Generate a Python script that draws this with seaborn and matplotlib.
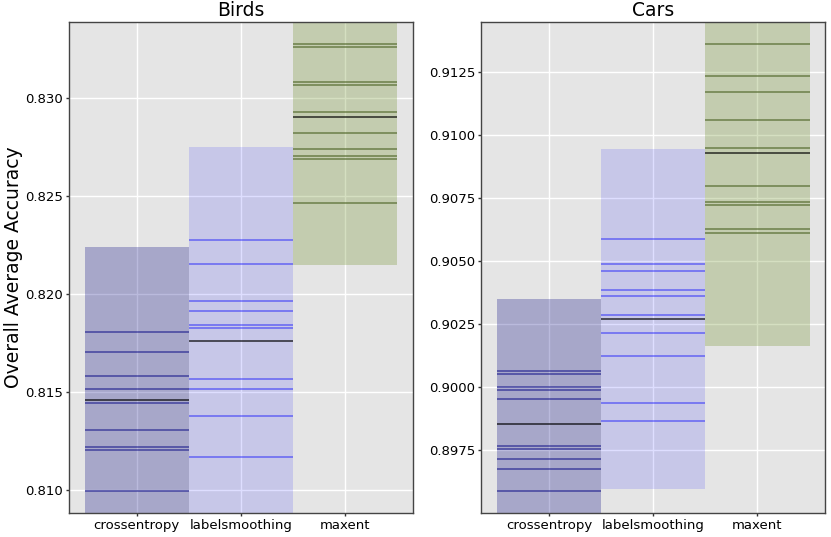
import matplotlib
matplotlib.use("Agg")
import matplotlib.pyplot as plt
import numpy as np
import seaborn as sns
from matplotlib.ticker import MultipleLocator, FormatStrFormatter

# Style: grey panel, white grid, dark frame with ticks
sns.set_theme(style="darkgrid", rc={
    "axes.facecolor": "#E5E5E5",
    "axes.edgecolor": "#444444",
    "axes.linewidth": 1.0,
    "grid.color": "white",
    "grid.linewidth": 1.0,
    "xtick.bottom": True,
    "ytick.left": True,
    "text.color": "black",
    "axes.labelcolor": "black",
    "xtick.color": "black",
    "ytick.color": "black",
})
plt.rcParams["font.family"] = ["DejaVu Sans"]

methods = ["crossentropy", "labelsmoothing", "maxent"]

# Birds: individual runs, mean and half-height of the shaded band
birds_ce = [0.81808, 0.81702, 0.81583, 0.81514, 0.81446, 0.81306, 0.81219, 0.81204, 0.80997]
birds_ls = [0.82274, 0.82153, 0.81964, 0.81912, 0.81842, 0.81825, 0.81566, 0.81514, 0.81376, 0.81168]
birds_me = [0.83274, 0.83259, 0.83083, 0.83068, 0.82930, 0.82823, 0.82740, 0.82704, 0.82689, 0.82463]
birds_mean = [0.81458, 0.81760, 0.82903]
birds_spread = [0.00783, 0.00988, 0.00755]

# Cars
cars_ce = [0.90066, 0.90052, 0.90002, 0.89990, 0.89952, 0.89766, 0.89754, 0.89714, 0.89677, 0.89590]
cars_ls = [0.90588, 0.90488, 0.90463, 0.90387, 0.90363, 0.90288, 0.90214, 0.90125, 0.89938, 0.89864]
cars_me = [0.91361, 0.91236, 0.91172, 0.91060, 0.90948, 0.90798, 0.90737, 0.90723, 0.90627, 0.90611]
cars_mean = [0.89856, 0.90272, 0.90928]
cars_spread = [0.00493, 0.00675, 0.00763]

band_colors = ["navy", "blue", "olivedrab"]
band_alpha = [0.27, 0.13, 0.28]
line_colors = ["navy", "blue", "darkolivegreen"]
line_alpha = [0.6, 0.5, 0.8]


def draw_panel(ax, runs, means, spreads, title, step, fmt):
    x = np.arange(len(methods))
    for i in x:
        ax.bar(i, 2 * spreads[i], bottom=means[i] - spreads[i], width=1.0,
               color=band_colors[i], alpha=band_alpha[i], linewidth=0, zorder=2)
        ax.hlines(runs[i], i - 0.5, i + 0.5, color=line_colors[i],
                  alpha=line_alpha[i], linewidth=1.1, zorder=3)
        ax.hlines(means[i], i - 0.5, i + 0.5, color="black",
                  alpha=0.8, linewidth=1.1, zorder=4)
    allv = np.concatenate([np.asarray(r) for r in runs])
    lo, hi = allv.min(), allv.max()
    pad = 0.05 * (hi - lo)
    ax.set_ylim(lo - pad, hi + pad)
    ax.set_xlim(-0.65, 2.65)
    ax.set_xticks(x)
    ax.set_xticklabels(methods)
    ax.yaxis.set_major_locator(MultipleLocator(step))
    ax.yaxis.set_major_formatter(FormatStrFormatter(fmt))
    ax.tick_params(axis="both", labelsize=9.5, length=2.5, width=1, pad=2,
                   color="#333333", direction="out")
    ax.set_title(title, fontsize=13.5, pad=4)
    ax.grid(True, color="white", linewidth=1.0)
    ax.set_axisbelow(True)


fig, axes = plt.subplots(1, 2, figsize=(8.31, 5.37), dpi=100)
fig.subplots_adjust(left=0.083, right=0.993, bottom=0.045, top=0.959, wspace=0.199)

draw_panel(axes[0], [birds_ce, birds_ls, birds_me], birds_mean, birds_spread,
           "Birds", 0.005, "%.3f")
draw_panel(axes[1], [cars_ce, cars_ls, cars_me], cars_mean, cars_spread,
           "Cars", 0.0025, "%.4f")
axes[0].set_ylabel("Overall Average Accuracy", fontsize=13.5, labelpad=1.5)

fig.savefig("out.png", dpi=100)
